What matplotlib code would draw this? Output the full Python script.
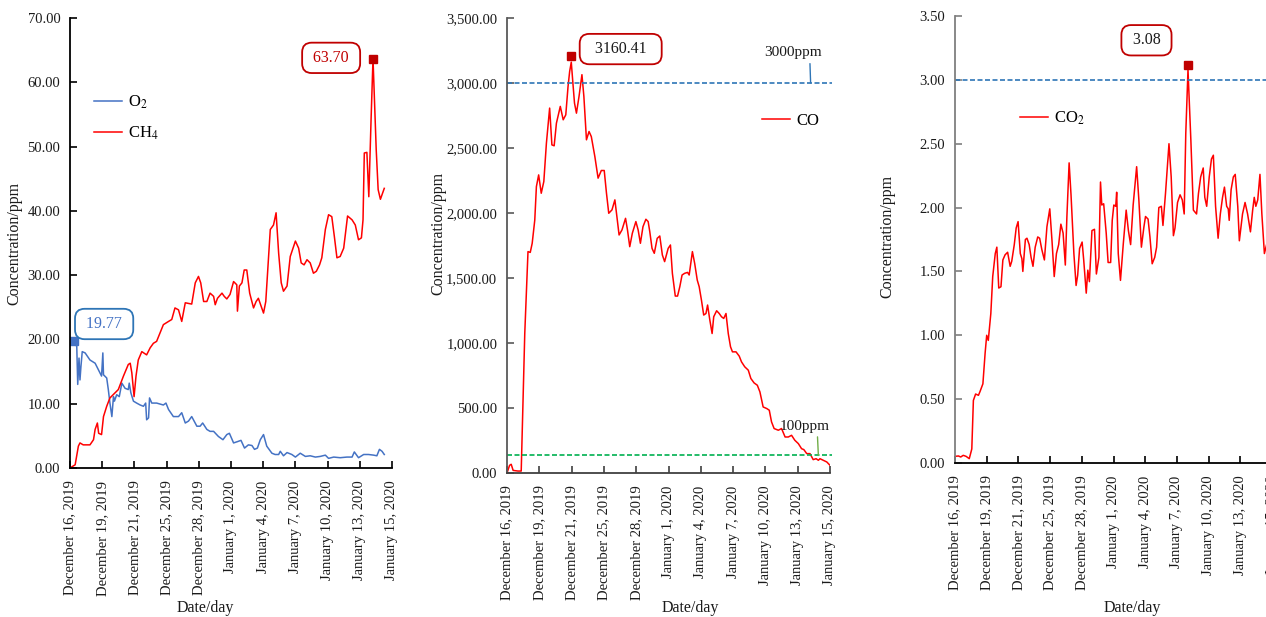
import matplotlib
matplotlib.use('Agg')
import matplotlib.pyplot as plt
import numpy as np

plt.rcParams['font.family'] = ['Liberation Serif', 'DejaVu Serif']
plt.rcParams['mathtext.fontset'] = 'stix'

date_labels = ['December 16, 2019', 'December 19, 2019', 'December 21, 2019',
               'December 25, 2019', 'December 28, 2019', 'January 1, 2020',
               'January 4, 2020', 'January 7, 2020', 'January 10, 2020',
               'January 13, 2020', 'January 15, 2020']

# ---- Panel 1: CH4 and O2 (x in tick units, 0 = December 16, 2019) ----
ch4_t = [0, 0.16, 0.26, 0.31, 0.41, 0.62, 0.73, 0.78, 0.85, 0.89, 0.98, 1.04, 1.14, 1.24,
         1.40, 1.50, 1.66, 1.81, 1.87, 1.92, 1.99, 2.05, 2.12, 2.23, 2.38, 2.49, 2.59,
         2.69, 2.90, 3.06, 3.16, 3.26, 3.37, 3.47, 3.58, 3.78, 3.89, 3.99, 4.06, 4.15,
         4.25, 4.35, 4.46, 4.51, 4.58, 4.72, 4.79, 4.87, 4.97, 5.08, 5.18, 5.20, 5.26,
         5.34, 5.41, 5.49, 5.58, 5.70, 5.78, 5.85, 6.01, 6.08, 6.22, 6.32, 6.40, 6.48,
         6.56, 6.63, 6.74, 6.84, 7.00, 7.10, 7.18, 7.27, 7.36, 7.46, 7.56, 7.65, 7.75,
         7.82, 7.93, 8.03, 8.13, 8.21, 8.29, 8.39, 8.50, 8.62, 8.76, 8.86, 8.96, 9.05,
         9.10, 9.14, 9.22, 9.28, 9.35, 9.41, 9.51, 9.57, 9.64, 9.76]
ch4_v = [0, 0.5, 3.4, 3.9, 3.6, 3.6, 4.4, 6.0, 7.0, 5.4, 5.2, 8.0, 9.6, 10.9,
         11.7, 12.2, 14.3, 16.1, 16.3, 14.8, 11.1, 14.3, 16.8, 18.1, 17.6, 18.7, 19.4,
         19.7, 22.3, 22.8, 23.1, 24.9, 24.6, 22.8, 25.7, 25.5, 28.8, 29.8, 28.8, 25.9,
         25.9, 27.2, 26.7, 25.4, 26.4, 27.2, 26.7, 26.3, 27.0, 29.0, 28.5, 24.4, 28.3,
         28.8, 30.8, 30.8, 27.2, 24.9, 25.9, 26.4, 24.1, 25.9, 37.1, 37.8, 39.7, 33.4,
         28.8, 27.5, 28.3, 32.9, 35.3, 34.2, 31.9, 31.6, 32.4, 31.9, 30.3, 30.6, 31.6,
         32.7, 37.1, 39.4, 39.1, 36.0, 32.7, 32.9, 34.2, 39.2, 38.6, 37.8, 35.5, 35.8,
         38.6, 49.0, 49.1, 42.2, 54.2, 63.70, 49.5, 43.3, 41.8, 43.5]

o2_t = [0, 0.12, 0.21, 0.24, 0.28, 0.31, 0.34, 0.38, 0.47, 0.62, 0.78, 0.88, 0.98, 1.02,
        1.04, 1.14, 1.19, 1.24, 1.30, 1.35, 1.38, 1.45, 1.53, 1.61, 1.71, 1.81, 1.84,
        1.89, 1.97, 2.07, 2.18, 2.28, 2.35, 2.38, 2.44, 2.47, 2.54, 2.69, 2.90, 2.98,
        3.06, 3.21, 3.37, 3.47, 3.58, 3.68, 3.78, 3.94, 4.04, 4.12, 4.25, 4.35, 4.46,
        4.61, 4.75, 4.87, 4.95, 5.08, 5.20, 5.31, 5.42, 5.54, 5.65, 5.73, 5.82, 5.91,
        6.01, 6.11, 6.27, 6.37, 6.48, 6.53, 6.63, 6.74, 6.89, 7.00, 7.15, 7.31, 7.46,
        7.62, 7.77, 7.93, 8.03, 8.19, 8.39, 8.60, 8.76, 8.83, 8.96, 9.12, 9.27, 9.43,
        9.53, 9.61, 9.69, 9.76]
o2_v = [19.6, 19.77, 18.9, 13.0, 17.1, 13.7, 15.8, 18.1, 17.9, 16.8, 16.3, 15.3, 14.3, 17.9,
        14.5, 14.0, 12.2, 10.1, 8.0, 11.1, 10.4, 11.4, 11.1, 13.2, 12.4, 12.2, 13.2,
        11.7, 10.4, 10.1, 9.8, 9.6, 10.1, 7.5, 7.8, 10.9, 10.1, 10.1, 9.8, 10.1,
        9.1, 8.0, 8.0, 8.6, 7.0, 7.3, 8.0, 6.5, 6.5, 7.0, 6.0, 5.7, 5.7,
        4.9, 4.4, 5.2, 5.4, 3.9, 4.1, 4.3, 3.1, 3.6, 3.5, 2.9, 3.1, 4.4,
        5.2, 3.4, 2.3, 2.1, 2.1, 2.6, 1.9, 2.4, 2.1, 1.7, 2.3, 1.8, 1.9,
        1.7, 1.8, 2.0, 1.5, 1.7, 1.6, 1.7, 1.7, 2.5, 1.6, 2.1, 2.1, 2.0,
        1.9, 2.9, 2.6, 2.1]

# ---- Panel 2: CO ----
co_t = [0, 0.08, 0.13, 0.19, 0.34, 0.44, 0.55, 0.65, 0.72, 0.78, 0.86, 0.91, 0.98, 1.06,
        1.14, 1.22, 1.32, 1.39, 1.46, 1.53, 1.65, 1.74, 1.82, 1.89, 1.94, 1.99, 2.04,
        2.09, 2.15, 2.23, 2.32, 2.38, 2.46, 2.54, 2.61, 2.72, 2.82, 2.92, 3.01, 3.08,
        3.15, 3.25, 3.34, 3.39, 3.47, 3.56, 3.67, 3.73, 3.80, 3.88, 3.99, 4.06, 4.13,
        4.21, 4.30, 4.37, 4.42, 4.49, 4.56, 4.65, 4.73, 4.81, 4.88, 4.99, 5.06, 5.12,
        5.21, 5.28, 5.35, 5.42, 5.50, 5.59, 5.64, 5.74, 5.81, 5.89, 5.95, 6.02, 6.09,
        6.16, 6.21, 6.28, 6.35, 6.40, 6.49, 6.57, 6.64, 6.71, 6.78, 6.85, 6.92, 6.98,
        7.09, 7.19, 7.26, 7.36, 7.47, 7.55, 7.65, 7.75, 7.83, 7.93, 8.04, 8.12, 8.19,
        8.27, 8.40, 8.50, 8.61, 8.71, 8.81, 8.91, 9.02, 9.12, 9.19, 9.28, 9.38, 9.48,
        9.57, 9.64, 9.69, 9.79, 9.90, 10.0]
co_v = [0, 59, 67, 20, 15, 15, 1073, 1703, 1697, 1767, 1946, 2203, 2293, 2152,
        2242, 2537, 2807, 2524, 2517, 2691, 2820, 2717, 2755, 2974, 3089, 3160.41, 3000,
        2845, 2768, 2897, 3064, 2897, 2563, 2627, 2588, 2434, 2268, 2327, 2327, 2152,
        1998, 2024, 2101, 1998, 1831, 1870, 1959, 1870, 1741, 1844, 1934, 1870, 1767,
        1895, 1952, 1934, 1857, 1728, 1690, 1805, 1823, 1677, 1626, 1728, 1754, 1536,
        1361, 1361, 1433, 1523, 1536, 1543, 1523, 1703, 1613, 1484, 1433, 1330, 1215,
        1227, 1292, 1176, 1073, 1202, 1248, 1227, 1202, 1189, 1227, 1073, 971, 932,
        932, 899, 855, 817, 791, 727, 693, 675, 624, 508, 496, 483, 393,
        342, 329, 342, 277, 277, 290, 252, 226, 187, 180, 149, 149, 103,
        110, 98, 110, 98, 85, 59]
co_limit_high = 3000
co_limit_low = 135

# ---- Panel 3: CO2 ----
co2_t = [0, 0.11, 0.18, 0.26, 0.35, 0.45, 0.53, 0.58, 0.65, 0.74, 0.79, 0.88, 0.95, 1.00,
         1.05, 1.13, 1.19, 1.27, 1.32, 1.38, 1.45, 1.51, 1.58, 1.66, 1.74, 1.79, 1.87,
         1.93, 1.99, 2.06, 2.11, 2.14, 2.22, 2.27, 2.34, 2.40, 2.46, 2.53, 2.61, 2.67,
         2.74, 2.82, 2.90, 2.99, 3.06, 3.13, 3.20, 3.27, 3.34, 3.41, 3.48, 3.53, 3.60,
         3.66, 3.75, 3.82, 3.87, 3.93, 4.01, 4.06, 4.14, 4.19, 4.24, 4.32, 4.40, 4.46,
         4.54, 4.59, 4.63, 4.69, 4.77, 4.83, 4.91, 4.96, 5.01, 5.07, 5.10, 5.15, 5.22,
         5.31, 5.40, 5.47, 5.54, 5.62, 5.73, 5.80, 5.88, 5.96, 6.01, 6.09, 6.15, 6.22,
         6.30, 6.36, 6.43, 6.51, 6.56, 6.64, 6.75, 6.82, 6.89, 6.94, 7.02, 7.10, 7.17,
         7.23, 7.28, 7.35, 7.44, 7.52, 7.62, 7.68, 7.75, 7.83, 7.88, 7.94, 8.02, 8.09,
         8.15, 8.22, 8.30, 8.37, 8.44, 8.50, 8.57, 8.62, 8.65, 8.71, 8.78, 8.84, 8.92,
         8.97, 9.07, 9.15, 9.23, 9.32, 9.39, 9.44, 9.49, 9.55, 9.62, 9.68, 9.76, 9.84]
co2_v = [0.052, 0.055, 0.047, 0.06, 0.052, 0.034, 0.11, 0.49, 0.54, 0.53, 0.56, 0.62, 0.86, 1.00,
         0.96, 1.17, 1.46, 1.64, 1.69, 1.37, 1.38, 1.59, 1.63, 1.65, 1.54, 1.58, 1.71,
         1.84, 1.89, 1.64, 1.60, 1.50, 1.75, 1.76, 1.71, 1.61, 1.54, 1.69, 1.77, 1.76,
         1.67, 1.59, 1.85, 1.99, 1.74, 1.46, 1.64, 1.71, 1.87, 1.80, 1.55, 1.93, 2.35,
         2.10, 1.64, 1.39, 1.47, 1.68, 1.73, 1.59, 1.33, 1.51, 1.42, 1.82, 1.83, 1.48,
         1.61, 2.20, 2.02, 2.03, 1.80, 1.57, 1.57, 1.90, 2.02, 2.01, 2.12, 1.64, 1.43,
         1.72, 1.98, 1.82, 1.71, 2.02, 2.32, 2.06, 1.69, 1.85, 1.93, 1.91, 1.77, 1.56,
         1.61, 1.69, 2.00, 2.01, 1.86, 2.11, 2.50, 2.24, 1.78, 1.84, 2.04, 2.10, 2.06,
         1.95, 2.58, 3.08, 2.53, 1.98, 1.95, 2.11, 2.24, 2.31, 2.08, 2.01, 2.24, 2.38,
         2.41, 2.01, 1.76, 1.95, 2.08, 2.16, 2.01, 1.99, 1.90, 2.14, 2.24, 2.26, 2.01,
         1.74, 1.95, 2.04, 1.95, 1.81, 1.98, 2.08, 2.01, 2.06, 2.26, 1.95, 1.64, 1.72]
co2_limit = 3.0

FIG_W, FIG_H = 1266, 617
fig = plt.figure(figsize=(FIG_W / 100, FIG_H / 100), dpi=100)


def px_axes(left, top, right, bottom):
    return fig.add_axes([left / FIG_W, 1 - bottom / FIG_H, (right - left) / FIG_W,
                         (bottom - top) / FIG_H])


def style(ax, ymax, ystep, left_color, bottom_color):
    ax.set_xlim(0, 10)
    ax.set_ylim(0, ymax)
    ax.set_xticks(range(len(date_labels)))
    ax.set_xticklabels(date_labels, rotation=90, fontsize=10.5)
    yt = np.arange(0, ymax + ystep / 2, ystep)
    ax.set_yticks(yt)
    ax.set_yticklabels(['{:,.2f}'.format(v) for v in yt], fontsize=10.5)
    for s in ['top', 'right']:
        ax.spines[s].set_visible(False)
    ax.spines['left'].set_color(left_color)
    ax.spines['bottom'].set_color(bottom_color)
    ax.spines['left'].set_linewidth(1.3)
    ax.spines['bottom'].set_linewidth(1.3)
    ax.tick_params(axis='x', direction='in', length=5, width=1.2, color=bottom_color,
                   pad=9, labelcolor='#1a1a1a')
    ax.tick_params(axis='y', direction='in', length=5, width=1.2, color=left_color,
                   pad=7, labelcolor='#1a1a1a')


box_kw = dict(boxstyle='round,pad=0.45,rounding_size=0.6', fc='white', lw=1.3)

# ---------------- Panel 1 ----------------
ax1 = px_axes(70, 18, 392, 468)
style(ax1, 70, 10, 'black', 'black')
ax1.plot(o2_t, o2_v, color='#4472C4', lw=1.1, label='O$_2$')
ax1.plot(ch4_t, ch4_v, color='#FF0000', lw=1.1, label='CH$_4$')
i = int(np.argmax(o2_v))
ax1.plot(o2_t[i], o2_v[i], 's', color='#4472C4', ms=6)
ax1.text(1.06, 22.4, ' {:.2f} '.format(o2_v[i]), color='#4472C4', fontsize=11.5,
         ha='center', va='center', bbox=dict(ec='#2E75B6', **box_kw))
j = int(np.argmax(ch4_v))
ax1.plot(ch4_t[j], ch4_v[j], 's', color='#C00000', ms=6)
ax1.text(8.11, 63.8, ' {:.2f} '.format(ch4_v[j]), color='#C00000', fontsize=11.5,
         ha='center', va='center', bbox=dict(ec='#C00000', **box_kw))
ax1.legend(loc='upper left', bbox_to_anchor=(0.075, 0.832), frameon=False, fontsize=12,
           handlelength=1.7, handletextpad=0.35, labelspacing=0.8, borderaxespad=0,
           borderpad=0)

# ---------------- Panel 2 ----------------
ax2 = px_axes(507, 18, 830, 473)
style(ax2, 3500, 500, '#595959', '#404040')
ax2.plot(co_t, co_v, color='#FF0000', lw=1.1, label='CO')
ax2.axhline(co_limit_high, color='#2E75B6', lw=1.2, ls=(0, (3, 1.5)), xmax=1.006, clip_on=False)
ax2.axhline(co_limit_low, color='#00B050', lw=1.2, ls=(0, (3, 1.5)), xmax=1.006, clip_on=False)
k = int(np.argmax(co_v))
ax2.plot(co_t[k], co_v[k] + 50, 's', color='#C00000', ms=6)
ax2.text(3.52, 3261, '  {:.2f}  '.format(co_v[k]), color='#1a1a1a', fontsize=11.5,
         ha='center', va='center', bbox=dict(ec='#C00000', **box_kw))
ax2.annotate('3000ppm', xy=(9.40, co_limit_high), xytext=(8.84, 3231), fontsize=11,
             ha='center', va='center', color='#1a1a1a',
             arrowprops=dict(arrowstyle='-', color='#2E75B6', lw=1.0, relpos=(0.8, 0),
                             shrinkA=1, shrinkB=0))
ax2.annotate('100ppm', xy=(9.64, co_limit_low), xytext=(9.22, 360), fontsize=11,
             ha='center', va='center', color='#1a1a1a',
             arrowprops=dict(arrowstyle='-', color='#70AD47', lw=1.0, relpos=(0.75, 0),
                             shrinkA=1, shrinkB=0))
ax2.legend(loc='upper left', bbox_to_anchor=(0.789, 0.792), frameon=False, fontsize=12,
           handlelength=1.7, handletextpad=0.35, borderaxespad=0, borderpad=0)

# ---------------- Panel 3 ----------------
ax3 = px_axes(955, 16, 1272, 463)
style(ax3, 3.5, 0.5, '#7f7f7f', '#000000')
ax3.plot(co2_t, co2_v, color='#FF0000', lw=1.1, label='CO$_2$')
ax3.axhline(co2_limit, color='#2E75B6', lw=1.2, ls=(0, (3, 1.5)))
m = int(np.argmax(co2_v))
ax3.plot(co2_t[m], co2_v[m] + 0.04, 's', color='#C00000', ms=6)
ax3.text(6.04, 3.31, ' {:.2f} '.format(co2_v[m]), color='#1a1a1a', fontsize=11.5,
         ha='center', va='center', bbox=dict(ec='#C00000', **box_kw))
ax3.legend(loc='upper left', bbox_to_anchor=(0.205, 0.79), frameon=False, fontsize=12,
           handlelength=1.7, handletextpad=0.35, borderaxespad=0, borderpad=0)

# axis titles
for ax, xl, yl, yc in [(ax1, 205, 14, 243), (ax2, 690, 438, 233), (ax3, 1132, 887, 236)]:
    fig.text(xl / FIG_W, 1 - 608 / FIG_H, 'Date/day', fontsize=11.5, ha='center',
             va='center', color='#1a1a1a')
    fig.text(yl / FIG_W, 1 - yc / FIG_H, 'Concentration/ppm', fontsize=11.5, rotation=90,
             ha='center', va='center', color='#1a1a1a')

fig.savefig('out.png', dpi=100)
